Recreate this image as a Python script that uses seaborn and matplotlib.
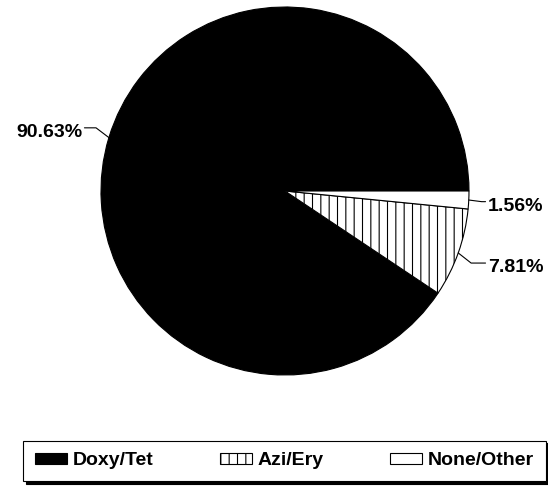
import numpy as np
import matplotlib
matplotlib.use("Agg")
import matplotlib.pyplot as plt
import seaborn as sns

# --- data ---
categories = ["Doxy/Tet", "Azi/Ery", "None/Other"]
shares = [90.63, 7.81, 1.56]
label_texts = ["90.63%", "7.81%", "1.56%"]

# --- style ---
sns.set_theme(style="white")
plt.rcParams["font.family"] = ["Liberation Sans", "DejaVu Sans"]
plt.rcParams["font.weight"] = "bold"
plt.rcParams["text.color"] = "black"
plt.rcParams["hatch.linewidth"] = 0.8

face_colors = ["black", "white", "white"]
hatches = [None, "||", None]

fig = plt.figure(figsize=(5.48, 4.86), dpi=100)
# axes sized so the unit circle is ~184 px, centred at (285, 191) from top-left
ax = fig.add_axes([0.1843, 0.2284, 0.6715, 0.7572])

wedges, _ = ax.pie(
    shares,
    colors=face_colors,
    startangle=0,
    counterclock=True,
    wedgeprops=dict(edgecolor="black", linewidth=0.8),
)
for w, h in zip(wedges, hatches):
    if h:
        w.set_hatch(h)

ax.set_xlim(-1, 1)
ax.set_ylim(-1, 1)
ax.set_aspect("equal")
ax.axis("off")

# leader lines + percentage labels
for w, txt in zip(wedges, label_texts):
    theta = np.deg2rad((w.theta1 + w.theta2) / 2)
    x0, y0 = np.cos(theta), np.sin(theta)
    side = np.sign(x0)
    xe = x0 + side * 0.07
    ye = y0 + np.sign(y0) * 0.055 * min(1.0, abs(y0) / 0.3)
    xend = side * 1.09
    ax.plot([x0, xe, xend], [y0, ye, ye], color="black", lw=0.8, clip_on=False)
    ax.text(xend + side * 0.012, ye - 0.025, txt,
            ha="left" if side > 0 else "right", va="center",
            fontsize=14, fontweight="bold", color="black", clip_on=False)

leg = fig.legend(
    wedges, categories,
    loc="lower left",
    bbox_to_anchor=(0.042, 0.0103, 0.954, 0.08),
    mode="expand",
    ncol=3,
    fontsize=14,
    frameon=True,
    fancybox=False,
    shadow={"color": "black", "alpha": 1},
    borderaxespad=0,
    borderpad=0.6,
    handlelength=1.65,
    handleheight=0.45,
    handletextpad=0.3,
)
leg.get_frame().set_edgecolor("black")
leg.get_frame().set_linewidth(0.8)
for t in leg.get_texts():
    t.set_fontweight("bold")
    t.set_color("black")

fig.savefig("out.png", dpi=100, facecolor="white")
